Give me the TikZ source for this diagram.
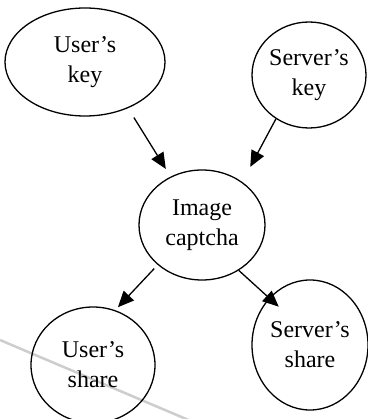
\documentclass[tikz,border=0pt]{standalone}
\usepackage{fontspec}
\setmainfont{Liberation Serif}
\usetikzlibrary{arrows.meta,shapes.geometric}
\definecolor{scanGray}{RGB}{205,205,205}

\begin{document}
\begin{tikzpicture}[x=1pt,y=-1pt,
  bubble/.style={draw, ellipse, line width=1.3pt, inner sep=0pt, align=center,
    font=\fontsize{24}{30}\selectfont},
  flow/.style={line width=1.3pt, -{Triangle[length=16pt,width=14pt]}}]
\useasboundingbox (0,0) rectangle (367,419);
\draw[scanGray, line width=2.5pt] (0,340) -- (205,427);
% keys on top, captcha in the middle, shares below
\node[bubble, minimum width=160pt, minimum height=108pt] (ukey) at (85,62) {User's\\key};
\node[bubble, minimum width=114pt, minimum height=106pt] (skey) at (309,75) {Server's\\key};
\node[bubble, minimum width=126pt, minimum height=110pt] (captcha) at (202,225) {Image\\captcha};
\node[bubble, minimum width=124pt, minimum height=116pt] (ushare) at (93,365) {User's\\share};
\node[bubble, minimum width=116pt, minimum height=130pt] (sshare) at (310,345) {Server's\\share};
\draw[flow, shorten <=11pt, shorten >=9pt] (ukey.-47) -- (captcha.123);
\draw[flow, shorten >=17pt] (skey.-127) -- (captcha.47);
\draw[flow, shorten <=5pt, shorten >=4pt] (captcha.-138) -- (ushare.68);
\draw[flow, shorten >=-13pt] (captcha.-51) -- (sshare.131);
\end{tikzpicture}
\end{document}
